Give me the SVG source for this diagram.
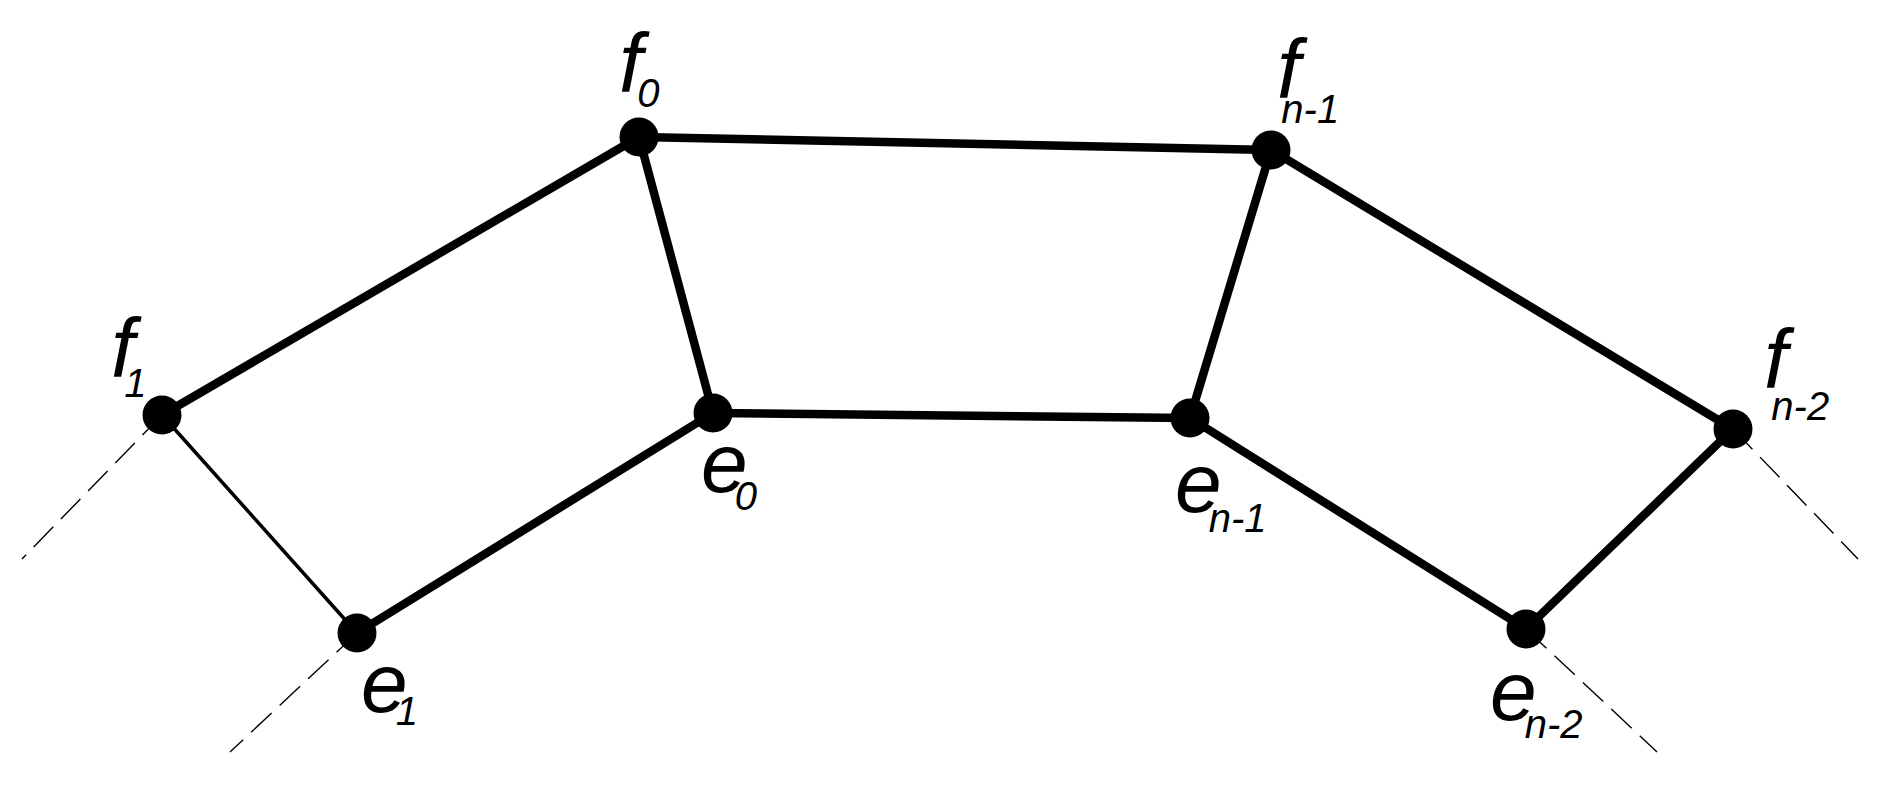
<svg xmlns="http://www.w3.org/2000/svg" width="1886" height="799" viewBox="0 0 1886 799">
<style>
.thick{stroke:#000;stroke-width:8.5;fill:none;stroke-linecap:round}
.thin{stroke:#000;stroke-width:3.5;fill:none}
.dash{stroke:#000;stroke-width:1.4;fill:none;stroke-dasharray:28 11}
.dot{fill:#000}
.lab{font-family:"Liberation Sans",Arial,sans-serif;font-style:italic;fill:#000;font-size:84px}
.sub{font-size:40px}
</style>
<rect width="1886" height="799" fill="#fff"/>
<g id="connectors">
<line class="thick" x1="162" y1="415" x2="639" y2="137"/>
<line class="thick" x1="639" y1="137" x2="1271" y2="150"/>
<line class="thick" x1="639" y1="137" x2="713" y2="413"/>
<line class="thick" x1="1271" y1="150" x2="1190" y2="418"/>
<line class="thick" x1="1271" y1="150" x2="1733" y2="429"/>
<line class="thick" x1="713" y1="413" x2="357" y2="633"/>
<line class="thick" x1="713" y1="413" x2="1190" y2="418"/>
<line class="thick" x1="1190" y1="418" x2="1526" y2="629"/>
<line class="thick" x1="1526" y1="629" x2="1733" y2="429"/>
<line class="thin" x1="162" y1="415" x2="357" y2="633"/>
<line class="dash" x1="162" y1="415" x2="22" y2="559"/>
<line class="dash" x1="357" y1="633" x2="230" y2="752"/>
<line class="dash" x1="1733" y1="429" x2="1858" y2="559"/>
<line class="dash" x1="1526" y1="629" x2="1657" y2="752"/>
</g>
<g id="f0"><circle class="dot" cx="639" cy="137" r="19.5"/><text class="lab" x="619" y="92">f<tspan class="sub" dx="-5" dy="15">0</tspan></text></g>
<g id="f1"><circle class="dot" cx="162" cy="415" r="19.5"/><text class="lab" x="111" y="377">f<tspan class="sub" dx="-10" dy="20">1</tspan></text></g>
<g id="fn1"><circle class="dot" cx="1271" cy="150" r="19.5"/><text class="lab" x="1277" y="98">f<tspan class="sub" dx="-19" dy="25">n-1</tspan></text></g>
<g id="fn2"><circle class="dot" cx="1733" cy="429" r="19.5"/><text class="lab" x="1764" y="388">f<tspan class="sub" dx="-16" dy="32">n-2</tspan></text></g>
<g id="e0"><circle class="dot" cx="713" cy="413" r="19.5"/><text class="lab" x="701" y="492">e<tspan class="sub" dx="-13" dy="18">0</tspan></text></g>
<g id="e1"><circle class="dot" cx="357" cy="633" r="19.5"/><text class="lab" x="361" y="712">e<tspan class="sub" dx="-12" dy="13">1</tspan></text></g>
<g id="en1"><circle class="dot" cx="1190" cy="418" r="19.5"/><text class="lab" x="1175" y="512">e<tspan class="sub" dx="-13" dy="20">n-1</tspan></text></g>
<g id="en2"><circle class="dot" cx="1526" cy="629" r="19.5"/><text class="lab" x="1490" y="720">e<tspan class="sub" dx="-12" dy="18">n-2</tspan></text></g>
</svg>
